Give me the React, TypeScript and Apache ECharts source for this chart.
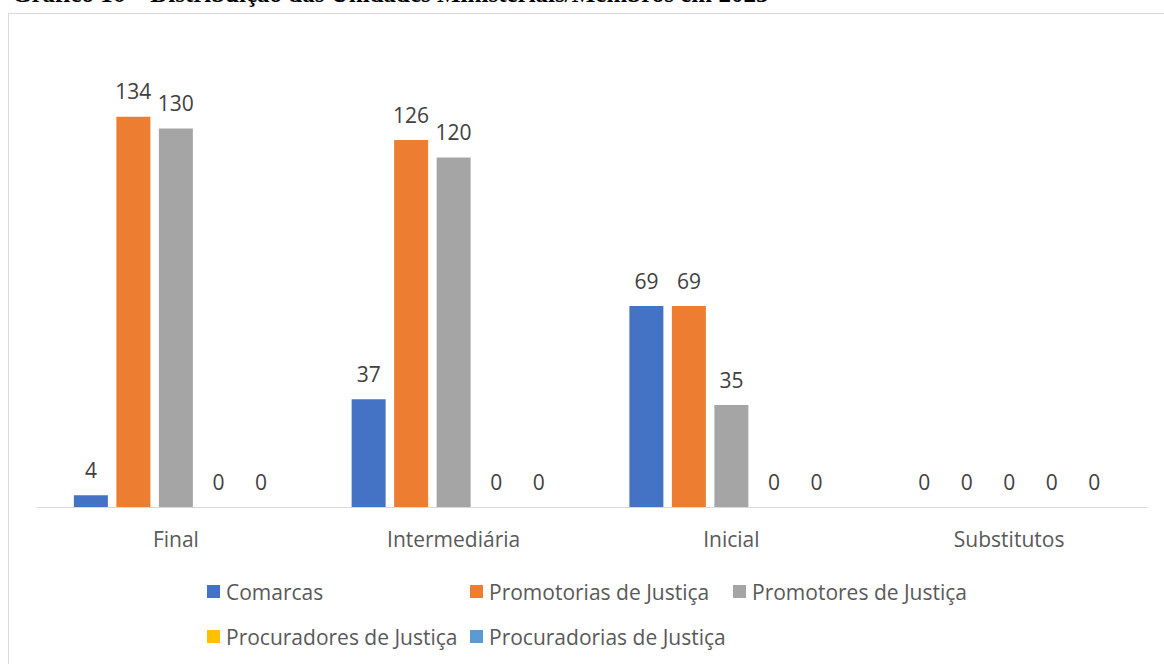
import React, { useEffect, useRef } from "react";
import * as echarts from "echarts";

const categories = ["Final", "Intermediária", "Inicial", "Substitutos"];
const seriesNames = [
  "Comarcas",
  "Promotorias de Justiça",
  "Promotores de Justiça",
  "Procuradores de Justiça",
  "Procuradorias de Justiça",
];
const comarcas = [4, 37, 69, 0];
const promotorias = [134, 126, 69, 0];
const promotores = [130, 120, 35, 0];
const procuradores = [0, 0, 0, 0];
const procuradorias = [0, 0, 0, 0];
const colors = ["#4472C4", "#ED7D31", "#A5A5A5", "#FFC000", "#5B9BD5"];
const title = "Gráfico 16 – Distribuição das Unidades Ministeriais/Membros em 2023";

const FONT = "'Open Sans', Lato, sans-serif";

export default function App() {
  const ref = useRef<HTMLDivElement>(null);
  useEffect(() => {
    if (!ref.current) return;
    const chart = echarts.init(ref.current, undefined, { renderer: "svg" });
    const values = [comarcas, promotorias, promotores, procuradores, procuradorias];
    const legendPos = [
      { left: 207, top: 581 },
      { left: 470, top: 581 },
      { left: 733, top: 581 },
      { left: 207, top: 626 },
      { left: 470, top: 626 },
    ];
    chart.setOption({
      animation: false,
      textStyle: { fontFamily: FONT },
      grid: { left: 37, right: 16, top: 41, bottom: 157, containLabel: false },
      xAxis: {
        type: "category",
        data: categories,
        axisLine: { lineStyle: { color: "#d9d9d9", width: 1 } },
        axisTick: { show: false },
        axisLabel: { color: "#595959", fontSize: 21, margin: 21, fontFamily: FONT },
      },
      yAxis: { type: "value", min: 0, max: 160, show: false, splitLine: { show: false } },
      legend: seriesNames.map((n, i) => ({
        data: [n],
        left: legendPos[i].left,
        top: legendPos[i].top,
        padding: 0,
        itemWidth: 13,
        itemHeight: 13,
        icon: "rect",
        textStyle: { color: "#595959", fontSize: 21, fontFamily: FONT, padding: [0, 0, 0, 1] },
        selectedMode: false,
      })),
      series: seriesNames.map((n, i) => ({
        name: n,
        type: "bar",
        data: values[i],
        barWidth: 34,
        barGap: "25%",
        itemStyle: { color: colors[i] },
        label: {
          show: true,
          position: "top",
          distance: 15,
          color: "#404040",
          fontSize: 21,
          fontFamily: FONT,
        },
      })),
      graphic: [
        {
          type: "rect",
          shape: { x: 8.5, y: 13.5, width: 1300, height: 800 },
          style: { fill: "none", stroke: "#d9d9d9", lineWidth: 1 },
          silent: true,
        },
        {
          type: "text",
          x: 12,
          y: 6,
          style: {
            text: title,
            font: "bold 25px 'Liberation Serif', 'Times New Roman', serif",
            fill: "#000000",
            verticalAlign: "bottom",
          },
        },
      ],
    });
    return () => chart.dispose();
  }, []);
  return (
    <div
      ref={ref}
      style={{ position: "fixed", left: 0, top: 0, width: 1164, height: 664, background: "#fff" }}
    />
  );
}
